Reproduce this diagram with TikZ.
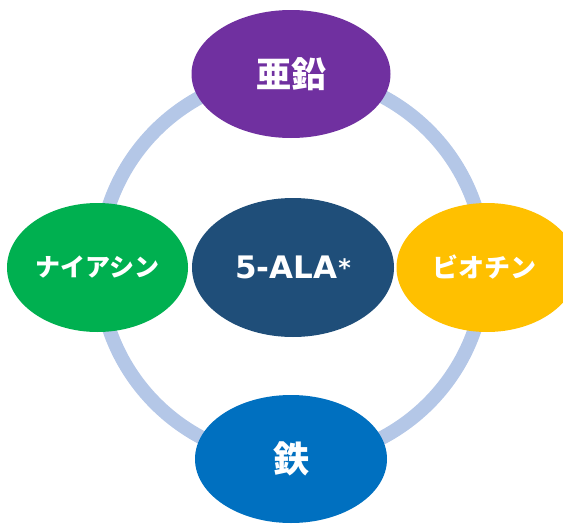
\documentclass[tikz,border=0pt]{standalone}
\usepackage{fontspec}
\newfontfamily\jp{Noto Sans CJK JP}
\newfontfamily\lat{DejaVu Sans}
\usetikzlibrary{shapes.geometric}
\definecolor{ringc}{HTML}{B4C7E7}
\definecolor{cpurple}{HTML}{7030A0}
\definecolor{cnavy}{HTML}{1F4E79}
\definecolor{cgreen}{HTML}{00B050}
\definecolor{corange}{HTML}{FFC000}
\definecolor{cblue}{HTML}{0070C0}
\tikzset{
  blob/.style={ellipse, inner sep=0pt, text=white, font=\jp\bfseries},
  ringline/.style={draw=ringc, line width=14pt}
}
\begin{document}
\begin{tikzpicture}[x=1pt,y=-1pt]
\useasboundingbox (0,0) rectangle (563,525);
\draw[ringline] (292,267) circle[radius=193pt];
\node[blob, fill=cpurple, minimum width=199pt, minimum height=128pt, font=\jp\bfseries\fontsize{35}{38}\selectfont] (zinc) at (291,74) {亜鉛};
\node[blob, fill=cnavy, minimum width=202pt, minimum height=139pt] (ala) at (293,267.5) {\lat\bfseries\fontsize{31}{36}\selectfont 5-ALA\kern1pt\raisebox{0.08em}{\fontsize{24}{26}\selectfont *}};
\node[blob, fill=cgreen, minimum width=181pt, minimum height=129pt, font=\jp\bfseries\fontsize{25}{30}\selectfont] (niacin) at (97.5,267.5) {ナイアシン};
\node[blob, fill=corange, minimum width=181pt, minimum height=129pt, font=\jp\bfseries\fontsize{26}{30}\selectfont] (biotin) at (487,267.5) {\hspace*{-6pt}ビオチン};
\node[blob, fill=cblue, minimum width=192pt, minimum height=128pt, font=\jp\bfseries\fontsize{36}{40}\selectfont] (iron) at (291,459) {鉄};
\end{tikzpicture}
\end{document}
